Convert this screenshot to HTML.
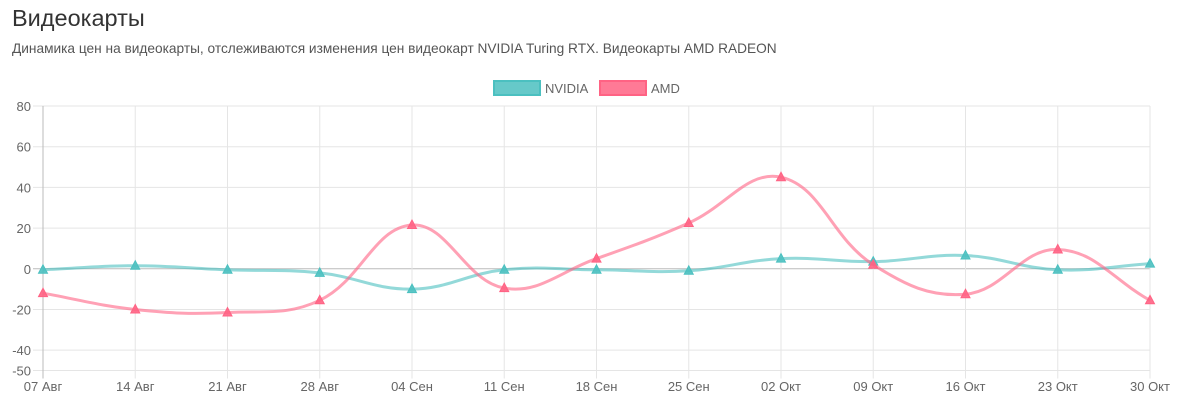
<!DOCTYPE html>
<html><head><meta charset="utf-8"><style>
body{margin:0;background:#fff;width:1200px;height:401px;overflow:hidden;font-family:"Liberation Sans",sans-serif}
h1{position:absolute;left:12px;top:5px;margin:0;font-weight:400;font-size:23.5px;color:#333}
p{position:absolute;left:12px;top:41px;margin:0;font-size:13.7px;color:#555}
svg{position:absolute;left:0;top:0}
</style></head><body>
<h1>Видеокарты</h1>
<p>Динамика цен на видеокарты, отслеживаются изменения цен видеокарт NVIDIA Turing RTX. Видеокарты AMD RADEON</p>
<svg id="c" width="1200" height="401">
<g>
<rect x="494" y="81" width="46" height="14" fill="rgba(75,192,192,0.85)" stroke="rgb(75,192,192)" stroke-width="2"/>
<text x="545" y="93" font-size="13" fill="#666">NVIDIA</text>
<rect x="600" y="81" width="46" height="14" fill="rgba(255,99,132,0.85)" stroke="rgb(255,99,132)" stroke-width="2"/>
<text x="651" y="93" font-size="13" fill="#666">AMD</text>
</g>
</svg>
<script>
const categories=["07 Авг","14 Авг","21 Авг","28 Авг","04 Сен","11 Сен","18 Сен","25 Сен","02 Окт","09 Окт","16 Окт","23 Окт","30 Окт"];
const nvidia=[-0.5,1.5,-0.5,-2,-10,-0.5,-0.5,-1,5,3.5,6.5,-0.5,2.5];
const amd=[-12,-20,-21.5,-15.5,21.5,-9.5,5,22.5,45,2,-12.5,9.5,-15.5];
const yTicks=[80,60,40,20,0,-20,-40,-50];
const svg=document.getElementById('c');
const NS='http://www.w3.org/2000/svg';
const x0=43,x1=1150,yTop=106,yBot=370.5,yMax=80,yMin=-50;
const X=i=>x0+i*(x1-x0)/(categories.length-1);
const Y=v=>yTop+(yMax-v)*(yBot-yTop)/(yMax-yMin);
function mk(t,a){const e=document.createElementNS(NS,t);for(const k in a)e.setAttribute(k,a[k]);svg.appendChild(e);return e;}
yTicks.forEach(v=>{
 const l=mk('line',{x1:33,x2:x1,y1:Y(v),y2:Y(v),stroke:v===0?'#bbb':'#e5e5e5','stroke-width':1});
 
 
 const t=mk('text',{x:31,y:Y(v)+5,'text-anchor':'end','font-size':13,fill:'#666'});
 t.textContent=v;
 
 
});
categories.forEach((c,i)=>{
 const l=mk('line',{x1:X(i),x2:X(i),y1:yTop,y2:yBot+8,stroke:i===0?'#bbb':'#e5e5e5','stroke-width':1});
 
 
 const t=mk('text',{x:X(i),y:391,'text-anchor':'middle','font-size':13,fill:'#666'});
 t.textContent=c;
 
 
});
function path(vals){
 const p=vals.map((v,i)=>[X(i),Y(v)]);const t=0.4;let d='M'+p[0][0]+','+p[0][1];
 const cps=p.map((c,i)=>{const pr=p[Math.max(i-1,0)],nx=p[Math.min(i+1,p.length-1)];
  const d01=Math.hypot(c[0]-pr[0],c[1]-pr[1]),d12=Math.hypot(nx[0]-c[0],nx[1]-c[1]);
  let fa=d01/(d01+d12)||0,fb=d12/(d01+d12)||0;fa*=t;fb*=t;
  return{p:[c[0]-fa*(nx[0]-pr[0]),c[1]-fa*(nx[1]-pr[1])],n:[c[0]+fb*(nx[0]-pr[0]),c[1]+fb*(nx[1]-pr[1])]};});
 for(let i=1;i<p.length;i++)d+=' C'+cps[i-1].n+' '+cps[i].p+' '+p[i];
 return d;
}
function series(vals,col,name){
 const l=mk('path',{d:path(vals),fill:'none',stroke:'rgba('+col+',0.6)','stroke-width':3});
 
 
 vals.forEach((v,i)=>{const x=X(i),y=Y(v);
  const m=mk('polygon',{points:`${x},${y-5} ${x-4.5},${y+3.5} ${x+4.5},${y+3.5}`,fill:'rgba('+col+',0.9)',stroke:'rgb('+col+')','stroke-width':1});
  
  
 });
}
series(nvidia,'75,192,192','nvidia');
series(amd,'255,99,132','amd');
</script>
</body></html>
